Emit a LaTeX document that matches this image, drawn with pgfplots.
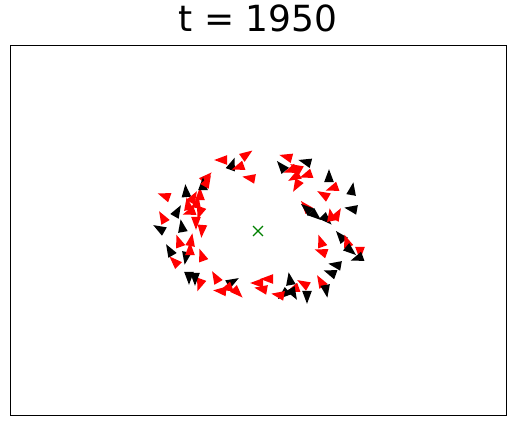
\documentclass[border=0pt]{standalone}
\usepackage{pgfplots}
\pgfplotsset{compat=1.18}
\usepackage{pgfplotstable}
\usepackage{fontspec}
\setmainfont{DejaVu Sans}
\pgfdeclareplotmark{arrowhead}{%
  \pgftransformrotate{\ang}%
  \pgfpathmoveto{\pgfqpoint{1\pgfplotmarksize}{0pt}}%
  \pgfpathlineto{\pgfqpoint{-0.65\pgfplotmarksize}{0.62\pgfplotmarksize}}%
  \pgfpathlineto{\pgfqpoint{-0.65\pgfplotmarksize}{-0.62\pgfplotmarksize}}%
  \pgfpathclose\pgfusepathqfill}
% x = pixel x, y = 426 - pixel y, a = heading (deg), c = 1 red / 0 black
\pgfplotstableread{
x y a c
246 271 35 1
222 266 180 1
232 261 70 0
239 259 200 1
250 248 170 1
287 269 165 1
282 259 130 0
306 264 165 0
291 256 200 1
297 258 150 1
295 249 210 1
307 251 200 1
297 241 240 1
329 249 90 0
333 238 200 1
324 231 150 1
352 236 80 0
306 219 130 1
307 217 140 0
315 211 320 0
326 207 315 0
331 210 100 1
337 211 60 1
352 217 170 0
321 184 110 1
322 174 160 1
341 189 130 0
347 184 110 1
350 176 320 0
360 174 270 1
358 168 200 0
336 161 170 0
331 153 160 0
321 144 120 1
326 136 280 0
304 142 150 1
307 130 270 0
294 137 200 1
290 146 100 0
284 132 220 0
293 133 300 0
279 131 170 1
268 147 180 1
258 143 180 1
262 137 170 1
237 134 315 1
221 135 175 1
232 144 30 0
216 148 120 1
200 142 250 1
189 149 270 0
195 148 270 0
227 138 200 1
175 164 135 1
186 169 260 0
202 170 110 1
170 175 120 0
190 176 90 1
179 184 110 1
191 185 80 1
202 196 265 1
196 204 270 1
182 199 100 0
160 197 150 0
163 208 120 1
177 214 60 0
188 221 100 1
197 223 80 1
200 214 250 1
190 214 200 1
165 230 160 1
186 234 95 0
200 231 90 1
206 248 45 1
203 241 90 0
207 244 60 1
193 228 60 1
}\data
\begin{document}
\begin{tikzpicture}
\begin{axis}[
  scale only axis, width=496pt, height=370pt,
  xmin=10, xmax=506, ymin=11, ymax=381,
  xtick=\empty, ytick=\empty,
  axis line style={line width=0.9pt},
  title={t = 1950},
  title style={font=\fontsize{36}{40}\selectfont, at={(0.5,1)}, anchor=base, yshift=7pt},
  colormap={rb}{color(0)=(black) color(1)=(red)},
  point meta min=0, point meta max=1,
  clip=false,
]
\addplot[scatter, only marks, mark=arrowhead, mark size=7.8pt,
  point meta=explicit,
  visualization depends on={\thisrow{a} \as \ang},
] table[x=x, y=y, meta=c] {\data};
\addplot[only marks, mark=x, mark size=7pt, color={rgb,255:red,0;green,128;blue,0}, mark options={line width=1.1pt}] coordinates {(258,195)};
\end{axis}
\path[use as bounding box] (-10pt,-11pt) rectangle (505pt,415pt);
\end{tikzpicture}
\end{document}
